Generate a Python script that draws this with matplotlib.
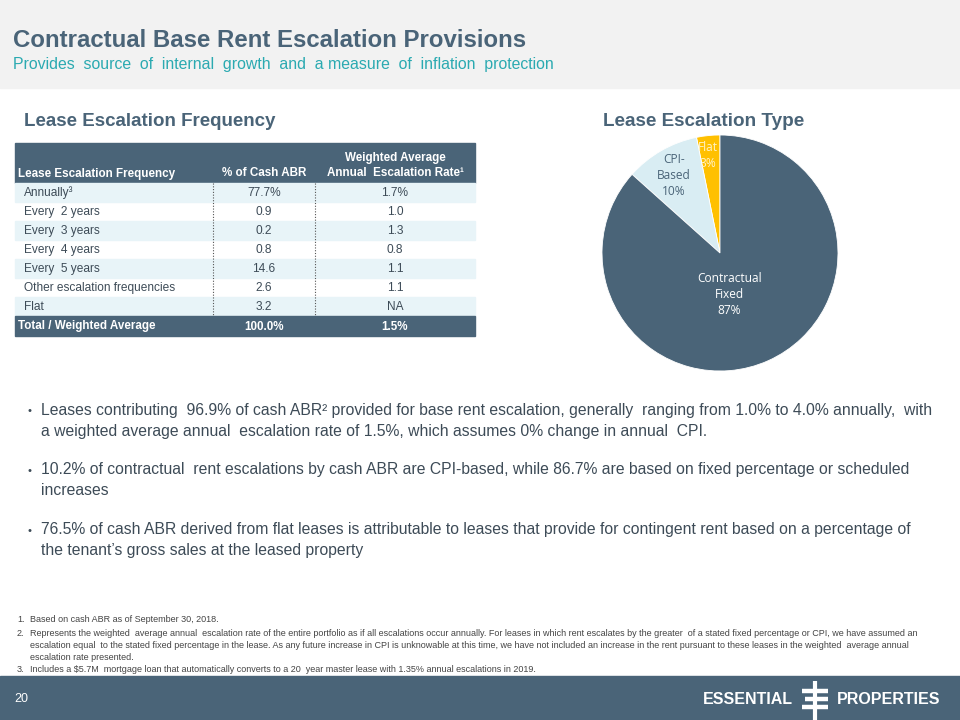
import matplotlib.pyplot as plt
from matplotlib.patches import Rectangle

# ---- data ----
freq_labels = ["Annually\u00b3", "Every  2 years", "Every  3 years", "Every  4 years",
               "Every  5 years", "Other escalation frequencies", "Flat"]
pct_cash_abr = ["77.7%", "0.9", "0.2", "0.8", "14.6", "2.6", "3.2"]
wavg_rate = ["1.7%", "1.0", "1.3", "0.8", "1.1", "1.1", "NA"]
total_row = ["Total / Weighted Average", "100.0%", "1.5%"]

pie_labels = ["Flat\n3%", "CPI-\nBased\n10%", "Contractual\nFixed\n87%"]
pie_values = [3.2, 10.2, 86.7]

bullets = [
    "Leases contributing  96.9% of cash ABR\u00b2 provided for base rent escalation, generally  ranging from 1.0% to 4.0% annually,  with\n"
    "a weighted average annual  escalation rate of 1.5%, which assumes 0% change in annual  CPI.",
    "10.2% of contractual  rent escalations by cash ABR are CPI-based, while 86.7% are based on fixed percentage or scheduled\n"
    "increases",
    "76.5% of cash ABR derived from flat leases is attributable to leases that provide for contingent rent based on a percentage of\n"
    "the tenant\u2019s gross sales at the leased property",
]
fn_nums = ["1.", "2.", "", "", "3."]
footnotes = [
    "Based on cash ABR as of September 30, 2018.",
    "Represents the weighted  average annual  escalation rate of the entire portfolio as if all escalations occur annually. For leases in which rent escalates by the greater  of a stated fixed percentage or CPI, we have assumed an",
    "escalation equal  to the stated fixed percentage in the lease. As any future increase in CPI is unknowable at this time, we have not included an increase in the rent pursuant to these leases in the weighted  average annual",
    "escalation rate presented.",
    "Includes a $5.7M  mortgage loan that automatically converts to a 20  year master lease with 1.35% annual escalations in 2019.",
]

SLATE = "#4A6478"
TEAL = "#2BAAB1"
TEXT = "#3D4B57"
LIGHT = "#E8F4F8"
FONT = ["Liberation Sans", "DejaVu Sans"]
VB = "baseline"

fig = plt.figure(figsize=(9.6, 7.2), dpi=100)
ax = fig.add_axes([0, 0, 1, 1])
ax.set_xlim(0, 960)
ax.set_ylim(720, 0)
ax.axis("off")

# header band and footer band
ax.add_patch(Rectangle((0, 0), 960, 88, color="#F2F2F2", zorder=0))
ax.add_patch(Rectangle((0, 676), 960, 44, color=SLATE, zorder=0))

ax.text(13, 47, "Contractual Base Rent Escalation Provisions", fontsize=17.3, fontweight="bold",
        color=SLATE, family=FONT, va=VB)
ax.text(13, 69, "Provides  source  of  internal  growth  and  a measure  of  inflation  protection",
        fontsize=11.4, color=TEAL, family=FONT, va=VB)

ax.text(24, 126, "Lease Escalation Frequency", fontsize=13.5, fontweight="bold", color=SLATE,
        family=FONT, va=VB)
ax.text(603, 126, "Lease Escalation Type", fontsize=13.6, fontweight="bold", color=SLATE,
        family=FONT, va=VB)

# ---- table ----
tx0, tx1 = 15, 475
col_sep = [213, 315]
c2, c3 = 264, 395
hdr_top, hdr_bot = 143, 183
row_h = 19
hfs = 8.4
bfs = 8.6
off = 3.5  # baseline offset from row centre
ax.add_patch(Rectangle((tx0, hdr_top), tx1 - tx0, hdr_bot - hdr_top, color=SLATE, zorder=1))
ax.text(18, 173 + off, "Lease Escalation Frequency", fontsize=hfs, fontweight="bold", color="white",
        family=FONT, va=VB)
ax.text(c2, 173 + off, "% of Cash ABR", fontsize=hfs, fontweight="bold", color="white",
        family=FONT, va=VB, ha="center")
ax.text(c3, 157 + off, "Weighted Average", fontsize=hfs, fontweight="bold", color="white",
        family=FONT, va=VB, ha="center")
ax.text(c3, 173 + off, "Annual  Escalation Rate\u00b9", fontsize=hfs, fontweight="bold", color="white",
        family=FONT, va=VB, ha="center")

for i, (lab, p, r) in enumerate(zip(freq_labels, pct_cash_abr, wavg_rate)):
    y0 = hdr_bot + i * row_h
    if i % 2 == 0:
        ax.add_patch(Rectangle((tx0, y0), tx1 - tx0, row_h, color=LIGHT, zorder=1))
    yb = y0 + row_h / 2 + off
    ax.text(24, yb, lab, fontsize=bfs, color=TEXT, family=FONT, va=VB, zorder=3)
    ax.text(c2, yb, p, fontsize=bfs, color=TEXT, family=FONT, va=VB, ha="center", zorder=3)
    ax.text(c3, yb, r, fontsize=bfs, color=TEXT, family=FONT, va=VB, ha="center", zorder=3)

body_bot = hdr_bot + len(freq_labels) * row_h
for xs in col_sep:
    ax.plot([xs, xs], [hdr_bot, body_bot], color="#555555", lw=0.8, ls=(0, (1, 1.5)), zorder=2)

ax.add_patch(Rectangle((tx0, body_bot), tx1 - tx0, 20, color=SLATE, zorder=1))
for txt, x, ha in zip(total_row, [18, c2, c3], ["left", "center", "center"]):
    ax.text(x, body_bot + 10 + off, txt, fontsize=hfs, fontweight="bold", color="white",
            family=FONT, va=VB, ha=ha)

# ---- bullets ----
for y, b in zip([421, 480, 540], bullets):
    ax.text(30, y - 9.5, "\u2022", fontsize=8, color=TEXT, family=FONT, va="center", ha="center")
    ax.text(41, y, b, fontsize=11.3, color=TEXT, family=FONT, va="center", linespacing=1.45)

# ---- footnotes ----
for y, n, f in zip([620, 633, 645.5, 657.5, 669], fn_nums, footnotes):
    ax.text(17, y + 2.5, n, fontsize=6.5, color="#444444", family=FONT, va=VB)
    ax.text(30, y + 2.5, f, fontsize=6.5, color="#444444", family=FONT, va=VB)

# ---- footer ----
ax.text(14, 702, "20", fontsize=9, color="white", family=FONT, va=VB)
ax.text(793, 704, "ESSENTIAL", fontsize=11.5, fontweight="bold", color="white", family=FONT,
        va=VB, ha="right")
ax.text(837, 704, "PROPERTIES", fontsize=11.5, fontweight="bold", color="white", family=FONT,
        va=VB, ha="left")
ax.plot([815, 815], [681, 720], color="white", lw=3, solid_capstyle="butt")
for yb, x0 in zip([691, 699, 707], [802, 805, 802]):
    ax.plot([x0, 828], [yb, yb], color="white", lw=3.2, solid_capstyle="butt")

# ---- pie ----
cx, cy, rad = 720, 253, 118
pax = fig.add_axes([(cx - rad) / 960, (720 - cy - rad) / 720, 2 * rad / 960, 2 * rad / 720])
pax.pie(pie_values, colors=["#FFC000", "#D9EDF3", SLATE], startangle=90, counterclock=True,
        wedgeprops=dict(edgecolor="white", linewidth=0.6))
pax.set_aspect("equal")
pax.set_xlim(-1, 1)
pax.set_ylim(-1, 1)
lab_pos = [(-0.10, 0.83), (-0.39, 0.66), (0.08, -0.35)]
lab_col = ["#FFF3C8", SLATE, "white"]
for (x, y), t, c in zip(lab_pos, pie_labels, lab_col):
    pax.text(x, y, t, ha="center", va="center", fontsize=8.6, color=c,
             family=["Open Sans", "DejaVu Sans"], linespacing=1.3)

fig.savefig("out.png", dpi=100)
